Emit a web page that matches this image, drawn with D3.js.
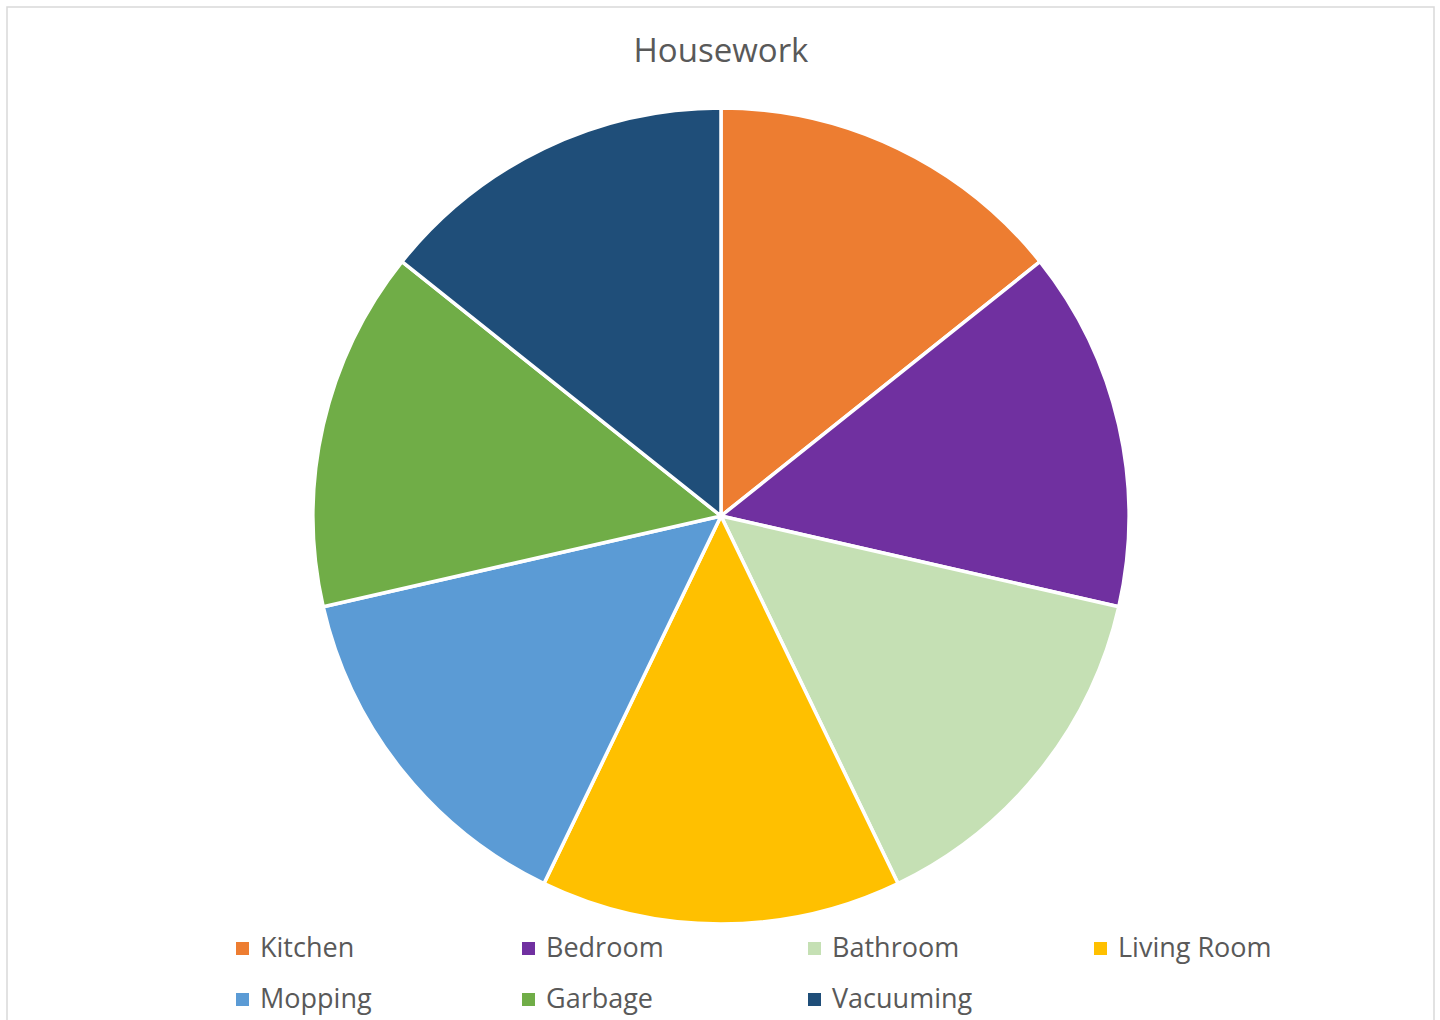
<!DOCTYPE html>
<html>

<head>
    <title>Housework</title>
    <script src="https://cdn.jsdelivr.net/npm/d3@7"></script>
    <style>
        body { margin: 0; background: #fff; }
    </style>
</head>

<body>
    <svg width="1440" height="1020" id="mainsvg"></svg>
    <script>
        const categories = ['Kitchen', 'Bedroom', 'Bathroom', 'Living Room', 'Mopping', 'Garbage', 'Vacuuming'];
        const values = [1, 1, 1, 1, 1, 1, 1];
        const sliceColors = ['#ED7D31', '#7030A0', '#C5E0B4', '#FFC000', '#5B9BD5', '#70AD47', '#1F4E79'];

        const svg = d3.select('svg');
        const FONT = '"Open Sans", "Noto Sans", sans-serif';
        const cx = 721, cy = 516, R = 408;

        // chart frame
        svg.append('rect').attr('x', 7).attr('y', 7).attr('width', 1427).attr('height', 1030)
            .attr('fill', 'none').attr('stroke', '#d9d9d9').attr('stroke-width', 1.5);

        svg.append('text').attr('x', 721).attr('y', 62).attr('text-anchor', 'middle')
            .attr('font-family', FONT).attr('font-size', 33).attr('fill', '#595959')
            .text('Housework');

        const data = categories.map((c, i) => ({ name: c, value: values[i] }));
        const color = d3.scaleOrdinal().domain(categories).range(sliceColors);
        const pie = d3.pie().value(d => d.value).sort(null);
        const arc = d3.arc().innerRadius(0).outerRadius(R);

        svg.append('g').attr('transform', `translate(${cx},${cy})`)
            .selectAll('path').data(pie(data)).join('path')
            .attr('d', arc).attr('fill', d => color(d.data.name))
            .attr('stroke', '#fff').attr('stroke-width', 3.5).attr('stroke-linejoin', 'round');

        // legend, 4 per row
        const colX = d3.scaleLinear().domain([0, 1]).range([236, 522]);
        const rowY = d3.scaleLinear().domain([0, 1]).range([942, 993]);
        const legend = svg.append('g').selectAll('g').data(categories).join('g')
            .attr('transform', (d, i) => `translate(${colX(i % 4)},${rowY(Math.floor(i / 4))})`);
        legend.append('rect').attr('width', 13).attr('height', 13).attr('fill', d => color(d));
        legend.append('text').attr('x', 24).attr('y', 15)
            .attr('font-family', FONT).attr('font-size', 27).attr('fill', '#595959')
            .text(d => d);
    </script>
</body>

</html>
